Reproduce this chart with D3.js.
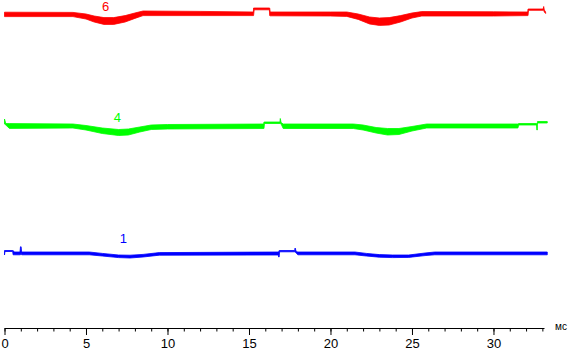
<!DOCTYPE html>
<html>
<head>
<meta charset="utf-8">
<script src="https://cdn.jsdelivr.net/npm/d3@7"></script>
<style>
  body { margin: 0; background: #fff; }
  svg { display: block; }
</style>
</head>
<body>
<div id="chart"></div>
<script>
// channel names, colours and baseline level (arbitrary units)
const channels = ["6", "4", "1"];
const channelColors = ["#ff0000", "#00ff00", "#0000ff"];
const channelOffsets = [157, 101, 37];
// where each channel number is written [ms, value]
const channelLabels = [[6.2, 160.8], [6.93, 105.5], [7.3, 45]];

// trace envelopes: [ms, upper deviation, lower deviation]
const trace6 = [
  [0, 0.9, -1.3], [4.2, 0.8, -1.3], [5.0, 0, -2.5], [5.5, -1, -4], [6.1, -1.8, -5.2],
  [6.7, -1.8, -5.2], [7.4, -0.8, -4], [8.0, 0.5, -2.2], [8.5, 1.5, -0.8], [12.0, 1.3, -0.8],
  [15.27, 1, -0.8], [15.28, 3, -0.8], [15.32, 3, 2.1], [16.25, 3, 2.1], [16.27, 3, -0.8],
  [16.3, 1, -0.9], [20.0, 1, -1], [21.0, 1, -1.2], [21.7, 0, -2.7], [22.4, -1.5, -5],
  [23.0, -2, -5.7], [23.6, -1.8, -5.5], [24.3, -0.8, -4], [25.0, 0.5, -2], [25.6, 1.2, -1],
  [30.0, 1.1, -1], [32.1, 1, -0.8], [32.12, 2.5, -0.8], [32.15, 2.5, 1.85], [33.05, 2.5, 1.85],
  [33.08, 3.75, 1.85], [33.12, 2, 1], [33.2, 1, 0.25]
];
const trace4 = [
  [0, 3.5, 1], [0.08, 1.2, 0.5], [0.3, 1.2, -1.2], [4.2, 1, -1], [5.0, 0.25, -2],
  [6.0, -1, -3.75], [7.0, -1.75, -4.75], [7.6, -1.5, -4.5], [8.3, -0.5, -3], [9.0, 0.5, -1.75],
  [10.0, 0.75, -1.5], [15.9, 1, -1.25], [15.92, 2, -1.25], [15.95, 2, 1.25], [16.9, 2, 1.25],
  [16.92, 3.75, 1.25], [16.97, 1.75, 1], [17.1, 1, -1.25], [21.4, 1, -1.25], [22.0, 0.5, -2],
  [22.8, -0.75, -3.5], [23.5, -1.25, -4.5], [24.2, -1.25, -4.25], [25.0, -0.25, -2.5],
  [25.9, 1, -1], [31.5, 1, -1], [31.55, 1.25, 0.5], [32.64, 1.25, 0.5], [32.66, 1.25, -2],
  [32.69, 1.25, -2], [32.7, 2.25, 1.5], [33.3, 2.25, 1.5]
];
const trace1 = [
  [0, 1.75, -0.5], [0.03, 1.75, 1.25], [0.5, 1.75, 1.25], [0.53, 1.75, -0.4], [0.6, 1, -0.4],
  [0.95, 1, -0.4], [0.98, 3.6, -0.4], [1.02, 3.6, 0.5], [1.05, 1, -0.4], [5.2, 1, -0.4],
  [6.0, 0.3, -1], [7.0, -0.5, -1.8], [7.7, -0.6, -2], [8.5, -0.2, -1.5], [9.5, 0.7, -0.6],
  [16.8, 1, -0.5], [16.82, 1, -1.5], [16.85, 1.75, -1.5], [16.88, 1.75, 1.1], [17.8, 1.75, 1.1],
  [17.83, 3, 1.1], [17.9, 1.2, 0.4], [18.0, 1, -0.4], [21.5, 1, -0.4], [22.2, 0.3, -1],
  [23.0, -0.3, -1.6], [23.8, -0.5, -1.8], [24.8, -0.5, -1.7], [25.8, 0.5, -0.8],
  [26.4, 1, -0.4], [33.3, 1, -0.4]
];
const traces = [trace6, trace4, trace1];

const majorTicks = [0, 5, 10, 15, 20, 25, 30];
const minorTicks = d3.range(0, 34);
const unitLabel = "мс";

const width = 569;
const height = 353;

const svg = d3.select("#chart")
  .append("svg")
  .attr("width", width)
  .attr("height", height);

const x = d3.scaleLinear().domain([0, 33.1]).range([4.5, 544]);
const y = d3.scaleLinear().domain([0, 164]).range([328, 0]);

// traces drawn as filled envelopes
traces.forEach((tr, i) => {
  const area = d3.area()
    .x(d => x(d[0]))
    .y0(d => y(channelOffsets[i] + d[2]))
    .y1(d => y(channelOffsets[i] + d[1]));
  svg.append("path")
    .datum(tr)
    .attr("d", area)
    .attr("fill", channelColors[i])
    .attr("stroke", channelColors[i])
    .attr("stroke-width", 0.8);

  svg.append("text")
    .attr("x", x(channelLabels[i][0]))
    .attr("y", y(channelLabels[i][1]))
    .attr("dy", "0.35em")
    .attr("text-anchor", "middle")
    .attr("fill", channelColors[i])
    .style("font-family", "Liberation Sans, Arial, sans-serif")
    .style("font-size", "13px")
    .text(channels[i]);
});

// time axis
const axisY = 328;
svg.append("g")
  .attr("transform", `translate(0,${axisY})`)
  .call(d3.axisBottom(x).tickValues(minorTicks).tickSize(3.5).tickSizeOuter(0).tickFormat(""))
  .call(g => g.selectAll("line").attr("stroke", "#000"))
  .call(g => g.select(".domain").attr("stroke", "#000"));

svg.append("g")
  .attr("transform", `translate(0,${axisY})`)
  .call(d3.axisBottom(x).tickValues(majorTicks).tickSize(7).tickSizeOuter(0).tickPadding(4))
  .call(g => g.select(".domain").remove())
  .call(g => g.selectAll("line").attr("stroke", "#000"))
  .call(g => g.selectAll("text")
    .attr("fill", "#000")
    .style("font-family", "Liberation Sans, Arial, sans-serif")
    .style("font-size", "13px"));

svg.append("text")
  .attr("x", 555)
  .attr("y", axisY + 2)
  .attr("text-anchor", "start")
  .attr("fill", "#000")
  .style("font-family", "Liberation Sans, Arial, sans-serif")
  .style("font-size", "10px")
  .text(unitLabel);
</script>
</body>
</html>
